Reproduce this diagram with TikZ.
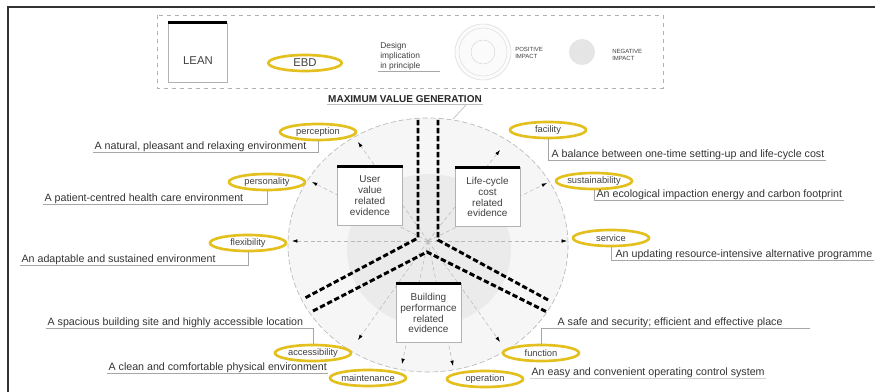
\documentclass[tikz,border=0pt]{standalone}
\usepackage{fontspec}
\setmainfont{Liberation Sans}
\usetikzlibrary{shapes.geometric,arrows.meta,calc}
\definecolor{ebd}{RGB}{228,192,30}
\begin{document}
\begin{tikzpicture}[x=0.75pt,y=-0.75pt,
  ebdell/.style={ellipse, draw=ebd, line width=2pt, fill=white, minimum width=57pt, minimum height=12pt, inner sep=0pt, font=\fontsize{7}{7.5}\selectfont, text=black!75},
  desc/.style={inner xsep=1pt, inner ysep=0pt, font=\fontsize{8}{9}\selectfont, text=black!80},
  uline/.style={draw=gray!70, line width=0.5pt},
  radial/.style={draw=gray!55, line width=0.4pt, dash pattern=on 3pt off 2pt, -{Latex[color=black,length=4pt,width=2.6pt]}},
  evbox/.style={draw=gray!60, fill=white, line width=0.4pt, minimum width=48.5pt, minimum height=44pt, inner sep=1pt, align=center, font=\fontsize{7.5}{8.2}\selectfont, text=black!75},
  topbar/.style={line width=2.2pt, black},
  yline/.style={black, line width=2.2pt, dash pattern=on 4pt off 2pt}
]
\useasboundingbox (0,0) rectangle (875,392);
% frame
\draw[black!80, line width=0.8pt] (875,7) -- (8,7) -- (8,392);
% legend
\draw[gray!60, dashed, line width=0.4pt] (157,15) rectangle (663,88);
\node[evbox, minimum width=44pt, minimum height=44pt] (lean) at (197.5,52.5) {};
\draw[topbar] (lean.north west) -- (lean.north east);
\node[font=\fontsize{8.5}{9}\selectfont, text=black!75] (leantext) at (198,61) {LEAN};
\node[ebdell, minimum width=55pt, minimum height=12pt, font=\fontsize{8.5}{9}\selectfont] (ebdleg) at (305,63) {EBD};
\node[anchor=north west, align=left, inner sep=0pt, font=\fontsize{6.3}{7.4}\selectfont, text=black!75] (design) at (380,42) {Design\\implication\\in principle};
\draw[uline] (378,71) -- (440,71);
\draw[gray!30, fill=gray!3] (483,52) circle (28);
\draw[gray!25] (483,52) circle (24);
\draw[gray!30] (483,52) circle (12);
\node[anchor=west, align=left, inner sep=0pt, font=\fontsize{4.5}{5}\selectfont, text=black!75] (pos) at (515,53) {POSITIVE\\IMPACT};
\fill[gray!20] (582,52) circle (13);
\node[anchor=west, align=left, inner sep=0pt, font=\fontsize{4.5}{5}\selectfont, text=black!75] (neg) at (612,55) {NEGATIVE\\IMPACT};
% title
\node[font=\bfseries\fontsize{7.5}{8}\selectfont, text=black!85, inner sep=1pt] (title) at (405,99) {MAXIMUM VALUE GENERATION};
\draw[gray!50, line width=0.5pt] (title.south west) -- (title.south east);
% circle
\fill[gray!7] (428,245) ellipse (140 and 127);
\fill[gray!16] (429,250) ellipse (82 and 76);
\draw[gray!55, line width=0.5pt, dash pattern=on 4pt off 2pt] (428,245) ellipse (140 and 127);
\coordinate (ctop) at (453,119);
\coordinate (tl) at (466,105);
\draw[gray!60, line width=0.4pt] (ctop) -- (tl);
% radial connectors
\coordinate (c) at (428,241);
\coordinate (pA) at (358,142);
\coordinate (pB) at (312,182);
\coordinate (pC) at (292,241);
\coordinate (fA) at (500,150);
\coordinate (fB) at (547,183);
\coordinate (fC) at (567,241);
\coordinate (bA) at (358,340);
\coordinate (bB) at (402,364);
\coordinate (bC) at (453,366);
\coordinate (bD) at (500,342);
\foreach \t in {pA,pB,pC,fA,fB,fC,bA,bB,bC,bD} \draw[radial] (c) -- (\t);
% Y lines
\draw[yline] (418,120) -- (418,238) -- (305,298);
\draw[yline] (438,120) -- (438,240) -- (550,301);
\draw[yline] (313,311) -- (427,252) -- (547,312);
% evidence boxes
\node[evbox] (user) at (370,196) {User\\value\\related\\evidence};
\draw[topbar] (user.north west) -- (user.north east);
\node[evbox] (life) at (487.5,197) {Life-cycle\\cost\\related\\evidence};
\draw[topbar] (life.north west) -- (life.north east);
\node[evbox] (build) at (428.5,313) {Building\\performance\\related\\evidence};
\draw[topbar] (build.north west) -- (build.north east);
% EBD ellipses
\node[ebdell] (perc) at (318,132) {perception};
\node[ebdell] (pers) at (267,182) {personality};
\node[ebdell] (flex) at (248,243) {flexibility};
\node[ebdell] (fac) at (548,130) {facility};
\node[ebdell] (sus) at (594,181) {sustainability};
\node[ebdell] (serv) at (611,238) {service};
\node[ebdell] (acc) at (313,353) {accessibility};
\node[ebdell] (main) at (368,378) {maintenance};
\node[ebdell] (oper) at (485,379) {operation};
\node[ebdell] (func) at (541,353) {function};
% descriptions
\node[desc, anchor=south west] (t1) at (93,152) {A natural, pleasant and relaxing environment};
\node[desc, anchor=south west] (t2) at (43,204) {A patient-centred health care environment};
\node[desc, anchor=south west] (t3) at (20,265) {An adaptable and sustained environment};
\node[desc, anchor=south west] (t4) at (550,160) {A balance between one-time setting-up and life-cycle cost};
\node[desc, anchor=south west] (t5) at (595,200) {An ecological impaction energy and carbon footprint};
\node[desc, anchor=south west] (t6) at (614,260) {An updating resource-intensive alternative programme};
\node[desc, anchor=south west] (t7) at (46,328) {A spacious building site and highly accessible location};
\node[desc, anchor=south west] (t8) at (107,373) {A clean and comfortable physical environment};
\node[desc, anchor=south west] (t9) at (556,328) {A safe and security; efficient and effective place};
\node[desc, anchor=south west] (t10) at (530,378) {An easy and convenient operating control system};
\coordinate (t9end) at (810,328);
% leaders
\draw[uline] (t1.south west) -| (perc.south);
\draw[uline] (t2.south west) -| (pers.south);
\draw[uline] (t3.south west) -| (flex.south);
\draw[uline] (fac.south) |- (t4.south east);
\draw[uline] (sus.south) |- (t5.south east);
\draw[uline] (serv.south) |- (t6.south east);
\draw[uline] (acc.north) |- (t7.south west);
\draw[uline] (t8.south west) -- (t8.south east);
\draw[uline] (func.north) |- (t9end);
\draw[uline, draw=gray!35] (t10.south west) -- (t10.south east);
\end{tikzpicture}
\end{document}
